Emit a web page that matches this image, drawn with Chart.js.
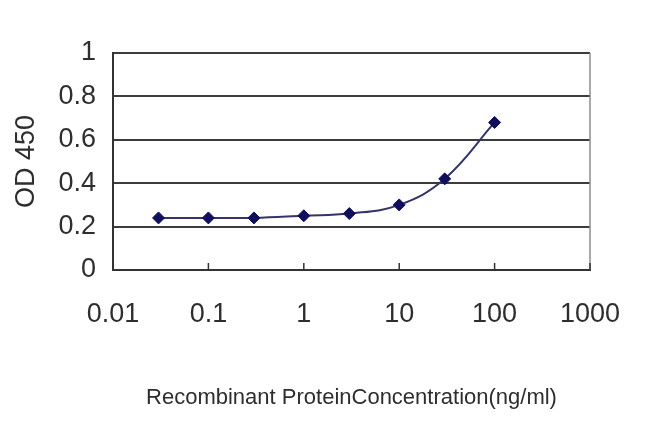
<!DOCTYPE html>
<html>
<head>
<meta charset="utf-8">
<title>OD 450 vs Recombinant Protein Concentration</title>
<script src="https://cdn.jsdelivr.net/npm/chart.js@4/dist/chart.umd.min.js"></script>
<style>
  html, body { margin: 0; padding: 0; background: #fff; }
  #wrap { width: 650px; height: 434px; }
</style>
</head>
<body>
<div id="wrap"><canvas id="odChart" width="650" height="434"></canvas></div>
<script>
// Data
const concentrations = [0.03, 0.1, 0.3, 1, 3, 10, 30, 100];
const odValues = [0.24, 0.24, 0.24, 0.25, 0.26, 0.30, 0.42, 0.68];

const xTicks = [0.01, 0.1, 1, 10, 100, 1000];
const xTickLabels = ['0.01', '0.1', '1', '10', '100', '1000'];
const yTickLabels = ['0', '0.2', '0.4', '0.6', '0.8', '1'];

const FONT = "'Liberation Sans', Arial, Helvetica, sans-serif";

// Right frame edge + short inward tick marks on the x axis
const framePlugin = {
    id: 'frame',
    afterDraw(chart) {
        const ctx = chart.ctx;
        const area = chart.chartArea;
        const x = chart.scales.x;
        ctx.save();
        ctx.strokeStyle = '#8c8c8c';
        ctx.lineWidth = 1.5;
        ctx.beginPath();
        ctx.moveTo(area.right, area.top);
        ctx.lineTo(area.right, area.bottom);
        ctx.stroke();

        ctx.strokeStyle = '#333';
        ctx.lineWidth = 1.5;
        xTicks.forEach(v => {
            const px = x.getPixelForValue(v);
            ctx.beginPath();
            ctx.moveTo(px, area.bottom);
            ctx.lineTo(px, area.bottom - 7);
            ctx.stroke();
        });
        ctx.restore();
    }
};

new Chart(document.getElementById('odChart'), {
    type: 'line',
    data: {
        datasets: [{
            data: concentrations.map((c, i) => ({ x: c, y: odValues[i] })),
            borderColor: '#34346a',
            borderWidth: 2,
            tension: 0.4,
            fill: false,
            pointStyle: 'rectRot',
            pointRadius: 6,
            pointBackgroundColor: '#0f0f5c',
            pointBorderColor: '#0f0f5c',
            pointBorderWidth: 1
        }]
    },
    options: {
        responsive: false,
        devicePixelRatio: 1,
        animation: false,
        layout: { padding: { top: 53, right: 60, bottom: 0, left: 0 } },
        plugins: {
            legend: { display: false },
            tooltip: { enabled: false }
        },
        scales: {
            x: {
                type: 'logarithmic',
                min: 0.01,
                max: 1000,
                afterBuildTicks: scale => {
                    scale.ticks = xTicks.map(v => ({ value: v }));
                },
                afterFit: scale => { scale.height = 164; },
                ticks: {
                    autoSkip: false,
                    maxRotation: 0,
                    padding: 28,
                    color: '#2e2e2e',
                    font: { family: FONT, size: 27 },
                    callback: (value, index) => xTickLabels[index]
                },
                grid: { display: false, drawTicks: false },
                border: { display: true, color: '#333', width: 2 },
                title: {
                    display: true,
                    text: 'Recombinant ProteinConcentration(ng/ml)',
                    color: '#2e2e2e',
                    font: { family: FONT, size: 22 },
                    padding: { top: 0, bottom: 23 }
                }
            },
            y: {
                min: 0,
                max: 1,
                afterFit: scale => { scale.width = 113; },
                ticks: {
                    stepSize: 0.2,
                    padding: 17,
                    color: '#2e2e2e',
                    font: { family: FONT, size: 27 },
                    callback: (value, index) => yTickLabels[index]
                },
                grid: {
                    drawTicks: false,
                    color: ctx => ctx.index === 0 ? 'rgba(0,0,0,0)' : '#3c3c3c',
                    lineWidth: 2
                },
                border: { display: true, color: '#333', width: 2 },
                title: {
                    display: true,
                    text: 'OD 450',
                    color: '#2e2e2e',
                    font: { family: FONT, size: 27 },
                    padding: { top: 10, bottom: 0 }
                }
            }
        }
    },
    plugins: [framePlugin]
});
</script>
</body>
</html>
